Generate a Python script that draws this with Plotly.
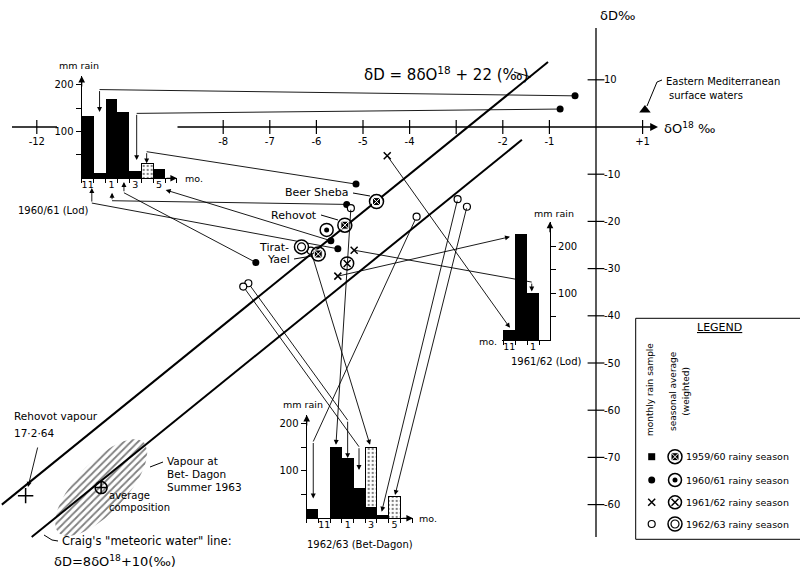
import numpy as np
import plotly.graph_objects as go

# ======================= DATA =======================
# Lod 1960/61 rainy season: monthly rain (mm) and monthly rain isotope samples
lod6061_months = ['11', '12', '1', '2', '3', '4', '5']
lod6061_rain = [134, 11, 170, 143, 16, 0, 20]
lod6061_rain_stippled = [0, 0, 0, 0, 0, 31, 0]
lod6061_d18O = [-5.54, -0.45, -5.35, -7.30, -0.77, -5.15, -5.69]
lod6061_dD = [-25.8, 6.6, -16.4, -28.7, 3.8, -12.1, -24.1]
lod6061_avg_d18O, lod6061_avg_dD = -5.78, -21.8

# Lod 1961/62 rainy season
lod6162_months = ['11', '12', '1']
lod6162_rain = [21, 226, 100]
lod6162_d18O = [-4.48, -5.54, -5.19]
lod6162_dD = [-6.1, -31.6, -26.1]
lod6162_avg_d18O, lod6162_avg_dD = -5.34, -28.9

# Bet-Dagon 1962/63 rainy season
bd6263_months = ['10', '11', '12', '1', '2', '3', '4', '5']
bd6263_rain = [20, 0, 150, 127, 63, 23, 8, 0]
bd6263_rain_stippled = [0, 0, 0, 0, 0, 127, 0, 47]
bd6263_d18O = [-3.85, None, -5.26, -7.46, -7.57, -6.12, -2.97, -2.77]
bd6263_dD = [-19.0, None, -17.2, -33.1, -33.8, -26.2, -15.3, -16.9]
bd6263_avg_d18O, bd6263_avg_dD = -6.32, -25.4

# 1959/60 weighted seasonal averages
st5960_names = ['Beer Sheba', 'Rehovot', 'Tirat-Yael']
st5960_d18O = [-4.71, -5.39, -5.96]
st5960_dD = [-15.8, -20.8, -26.9]

# other single samples
emed_d18O, emed_dD = 1.05, 3.6            # Eastern Mediterranean surface waters
rvap_d18O, rvap_dD = -12.24, -78.1        # Rehovot vapour 17.2.64
bdvap_d18O, bdvap_dD = -10.62, -76.4      # Bet-Dagon vapour, average composition

# reference lines  dD = slope * d18O + intercept
local_slope, local_intercept = 8, 22
craig_slope, craig_intercept = 8, 10
local_extent = [-12.75, -1.03]
craig_extent = [-12.11, -1.59]

# main axis ticks
x_tickvals = [-12, -8, -7, -6, -5, -4, -3, -2, -1, 1]
x_ticktext = ['-12', '-8', '-7', '-6', '-5', '-4', '', '-2', '-1', '+1']
y_tickvals = [10, -10, -20, -30, -40, -50, -60, -70, -80]
y_ticktext = ['10', '-10', '-20', '-30', '-40', '-50', '-60', '-70', '-60']
inset_tickvals = [50, 100, 150, 200]
inset_ticktext = ['', '100', '', '200']

# ======================= LAYOUT GEOMETRY =======================
W, H = 800, 571
X0PX, PXO = 596.0, 46.6     # pixel of d18O = 0, pixels per permil
Y0PX, PXD = 127.0, 4.72     # pixel of dD = 0, pixels per permil


def px2d(px, py):
    return (px - X0PX) / PXO, (Y0PX - py) / PXD


XR = [px2d(0, 0)[0], px2d(W, 0)[0]]
YR = [px2d(0, H)[1], px2d(0, 0)[1]]

INSET = {
    'lod6061': dict(n='2', dom_px=(81.7, 177.0), edge_px=81.7, ppm=11.9,
                    base_px=178.3, top_px=76.0, ppmm=0.467, side='left'),
    'lod6162': dict(n='3', dom_px=(501.7, 550.0), edge_px=503.3, ppm=11.9,
                    base_px=340.0, top_px=221.7, ppmm=0.467, side='right'),
    'bd6263': dict(n='4', dom_px=(306.7, 413.0), edge_px=306.7, ppm=11.7,
                   base_px=518.3, top_px=415.0, ppmm=0.474, side='left'),
}

# arrow routes: (x position in month index, elbow mm or None, arrow tip mm)
ROUTES = {
    'lod6061': [(0.35, -53, -21), (1.0, 190, 142), (2.05, -48, -31), (3.05, -31, -8),
                (4.12, 139, 39), (4.96, 57, 32), (6.56, None, -25)],
    'lod6162': [(0.06, None, 26), (0.06, None, 221), (1.89, 124, 104)],
    'bd6263': [(0.06, 162, 42), None, (2.0, None, 155), (3.0, 207, 127),
               (3.97, 151, 102), (4.91, None, 155), (5.91, None, 14), (7.05, None, 49)],
}


def inset_ranges(key):
    g = INSET[key]
    a, b = g['dom_px']
    xr = [(a - g['edge_px']) / g['ppm'] - 0.5, (b - g['edge_px']) / g['ppm'] - 0.5]
    yr = [0, (g['base_px'] - g['top_px']) / g['ppmm']]
    return xr, yr


def inset_to_main(key, idx, mm):
    g = INSET[key]
    return px2d(g['edge_px'] + (idx + 0.5) * g['ppm'], g['base_px'] - mm * g['ppmm'])


def P(px, py):
    return px / W, 1 - py / H


fig = go.Figure()
FONT = 'DejaVu Sans'

# ---------- hatched vapour cloud around average composition ----------
cpx = X0PX + bdvap_d18O * PXO
cpy = Y0PX - bdvap_dD * PXD
a_, b_, ang = 62, 25, np.deg2rad(47)
t = np.linspace(0, 2 * np.pi, 90)
epx = cpx + a_ * np.cos(t) * np.cos(ang) - b_ * np.sin(t) * np.sin(ang)
epy = cpy - (a_ * np.cos(t) * np.sin(ang) + b_ * np.sin(t) * np.cos(ang))
ex, ey = px2d(epx, epy)
fig.add_trace(go.Scatter(x=ex, y=ey, mode='lines', fill='toself', line=dict(width=0),
                         fillcolor='rgba(0,0,0,0)',
                         fillpattern=dict(shape='/', fgcolor='black', bgcolor='white',
                                          size=5, solidity=0.35),
                         hoverinfo='skip'))

# ---------- reference lines ----------
for slope, icpt, ext in [(local_slope, local_intercept, local_extent),
                         (craig_slope, craig_intercept, craig_extent)]:
    fig.add_trace(go.Scatter(x=ext, y=[slope * v + icpt for v in ext], mode='lines',
                             line=dict(color='black', width=2), hoverinfo='skip'))

# ---------- main axes lines ----------
ax_left = px2d(176, 0)[0]
fig.add_annotation(x=px2d(658, 0)[0], y=0, ax=ax_left, ay=0, xref='x', yref='y',
                   axref='x', ayref='y', text='', showarrow=True, arrowhead=2,
                   arrowsize=1.2, arrowwidth=1.3, arrowcolor='black')
fig.add_shape(type='line', x0=px2d(12, 0)[0], x1=px2d(57, 0)[0], y0=0, y1=0,
              xref='x', yref='y', line=dict(color='black', width=1.3))
fig.add_shape(type='line', x0=0, x1=0, y0=px2d(0, 28)[1], y1=px2d(0, 537)[1],
              xref='x', yref='y', line=dict(color='black', width=1.3))
fig.add_trace(go.Scatter(x=x_tickvals, y=[0] * len(x_tickvals), mode='markers',
                         marker=dict(symbol='line-ns', size=10,
                                     line=dict(color='black', width=1.2)),
                         hoverinfo='skip'))
fig.add_trace(go.Scatter(x=[0] * len(y_tickvals), y=y_tickvals, mode='markers',
                         marker=dict(symbol='line-ew', size=12,
                                     line=dict(color='black', width=1.2)),
                         hoverinfo='skip'))

# ---------- connectors from samples to rain histograms ----------
def connectors(key, xs, ys):
    for i, r in enumerate(ROUTES[key]):
        if r is None or xs[i] is None:
            continue
        idx, elbow, tip = r
        tx, ty = inset_to_main(key, idx, tip)
        sx, sy = xs[i], ys[i]
        if elbow is not None:
            bx, by = inset_to_main(key, idx, elbow)
            fig.add_trace(go.Scatter(x=[sx, bx], y=[sy, by], mode='lines',
                                     line=dict(color='black', width=0.9), hoverinfo='skip'))
            sx, sy = bx, by
        fig.add_annotation(x=tx, y=ty, ax=sx, ay=sy, xref='x', yref='y', axref='x',
                           ayref='y', text='', showarrow=True, arrowhead=2, arrowsize=1.1,
                           arrowwidth=0.9, arrowcolor='black')


connectors('lod6061', lod6061_d18O, lod6061_dD)
connectors('lod6162', lod6162_d18O, lod6162_dD)
connectors('bd6263', bd6263_d18O, bd6263_dD)


# ---------- symbols ----------
def sym(kind, xs, ys, xa='x', ya='y'):
    layers = {
        'sq': [dict(symbol='square', size=7, color='black')],
        'sq_avg': [dict(symbol='circle-open', size=14, color='black', line=dict(width=1.5, color='black')),
                   dict(symbol='square-x', size=8, color='black', line=dict(width=1, color='white'))],
        'dot': [dict(symbol='circle', size=7, color='black')],
        'dot_avg': [dict(symbol='circle-open', size=13, color='black', line=dict(width=1.5, color='black')),
                    dict(symbol='circle', size=5, color='black')],
        'x': [dict(symbol='x-thin-open', size=7, color='black', line=dict(width=1.5, color='black'))],
        'x_avg': [dict(symbol='circle-open', size=13, color='black', line=dict(width=1.5, color='black')),
                  dict(symbol='x-thin-open', size=7, color='black', line=dict(width=1.5, color='black'))],
        'o': [dict(symbol='circle', size=7, color='white', line=dict(width=1.2, color='black'))],
        'o_avg': [dict(symbol='circle', size=14, color='white', line=dict(width=1.5, color='black')),
                  dict(symbol='circle-open', size=8, color='black', line=dict(width=1.2, color='black'))],
    }[kind]
    for m in layers:
        fig.add_trace(go.Scatter(x=xs, y=ys, mode='markers', marker=m, xaxis=xa, yaxis=ya,
                                 hoverinfo='skip'))


sym('dot', lod6061_d18O, lod6061_dD)
sym('dot_avg', [lod6061_avg_d18O], [lod6061_avg_dD])
sym('x', lod6162_d18O, lod6162_dD)
sym('x_avg', [lod6162_avg_d18O], [lod6162_avg_dD])
sym('o', [v for v in bd6263_d18O if v is not None], [v for v in bd6263_dD if v is not None])
sym('o_avg', [bd6263_avg_d18O], [bd6263_avg_dD])
sym('sq_avg', st5960_d18O, st5960_dD)
fig.add_trace(go.Scatter(x=[emed_d18O], y=[emed_dD], mode='markers',
                         marker=dict(symbol='triangle-up', size=10, color='black'), hoverinfo='skip'))
fig.add_trace(go.Scatter(x=[rvap_d18O], y=[rvap_dD], mode='markers',
                         marker=dict(symbol='cross-thin-open', size=11, color='black',
                                     line=dict(width=1.5, color='black')),
                         hoverinfo='skip'))
fig.add_trace(go.Scatter(x=[bdvap_d18O], y=[bdvap_dD], mode='markers',
                         marker=dict(symbol='circle-cross-open', size=12, color='black',
                                     line=dict(width=1.5, color='black')), hoverinfo='skip'))

# ---------- rain histograms (insets) ----------
layout_axes = {}
for key, months, rain, stip in [('lod6061', lod6061_months, lod6061_rain, lod6061_rain_stippled),
                                ('lod6162', lod6162_months, lod6162_rain, None),
                                ('bd6263', bd6263_months, bd6263_rain, bd6263_rain_stippled)]:
    g = INSET[key]
    n = g['n']
    xr, yr = inset_ranges(key)
    idx = list(range(len(months)))
    fig.add_trace(go.Bar(x=idx, y=[v if v else None for v in rain], width=1,
                         marker=dict(color='black', line=dict(width=0)),
                         xaxis='x' + n, yaxis='y' + n, hoverinfo='skip'))
    if stip is not None:
        fig.add_trace(go.Bar(x=idx, y=[v if v else None for v in stip], base=rain, width=1,
                             marker=dict(color='white', line=dict(color='black', width=1),
                                         pattern=dict(shape='.', fgcolor='black', bgcolor='white',
                                                      size=4, solidity=0.25)),
                             xaxis='x' + n, yaxis='y' + n, hoverinfo='skip'))
    labels_at = [i for i, m in enumerate(months) if m in ('11', '1', '3', '5')]
    a, b = g['dom_px']
    layout_axes['xaxis' + n] = dict(
        domain=[a / W, b / W], range=xr, anchor='y' + n, showline=True, linecolor='black',
        linewidth=1.2, showgrid=False, zeroline=False, tickmode='array', tickvals=labels_at,
        ticktext=[months[i] for i in labels_at], ticks='', tickfont=dict(size=9.5),
        ticklabelstandoff=-3,
        minor=dict(tickmode='linear', tick0=0.5, dtick=1, ticks='outside', ticklen=4,
                   tickcolor='black', tickwidth=1, showgrid=False))
    layout_axes['yaxis' + n] = dict(
        domain=[1 - g['base_px'] / H, 1 - g['top_px'] / H], range=yr, anchor='x' + n,
        side=g['side'], showline=True, linecolor='black', linewidth=1.2, showgrid=False,
        zeroline=False, tickmode='array', tickvals=inset_tickvals, ticktext=inset_ticktext,
        ticks='outside', ticklen=5, tickcolor='black', tickfont=dict(size=10))
    # axis arrowheads
    yx = xr[0] if g['side'] == 'left' else xr[1]
    fig.add_annotation(x=yx, y=yr[1], xref='x' + n, yref='y' + n, ax=0, ay=12, text='',
                       showarrow=True, arrowhead=2, arrowsize=1.1, arrowwidth=1.2,
                       arrowcolor='black')
    if g['side'] == 'left':
        fig.add_annotation(x=xr[1], y=0, xref='x' + n, yref='y' + n, ax=-12, ay=0, text='',
                           showarrow=True, arrowhead=2, arrowsize=1.1, arrowwidth=1.2,
                           arrowcolor='black')

# ---------- texts ----------
def T(text, px, py, size=10, xanchor='center', angle=0):
    x, y = P(px, py)
    fig.add_annotation(x=x, y=y, xref='paper', yref='paper', text=text, showarrow=False,
                       xanchor=xanchor, yanchor='middle', textangle=angle,
                       font=dict(size=size, family=FONT, color='black'))


def L(pts, width=1):
    for (x0, y0), (x1, y1) in zip(pts[:-1], pts[1:]):
        a0, b0 = P(x0, y0)
        a1, b1 = P(x1, y1)
        fig.add_shape(type='line', x0=a0, y0=b0, x1=a1, y1=b1, xref='paper', yref='paper',
                      line=dict(color='black', width=width))


T('δD = 8δO<sup>18</sup> + 22 (‰)', 446, 74, 15)
L([(514, 72), (531, 77)])
T('δD‰', 598, 15, 13, 'left')
T('δO<sup>18</sup> ‰', 662, 128, 13, 'left')
T('Eastern Mediterranean', 664, 82, 10, 'left')
T('surface waters', 667, 95, 10, 'left')
L([(647, 106), (657, 82), (662, 80)])

T('mm rain', 79, 66, 9.5)
T('1960/61 (Lod)', 53, 211, 10)
T('mo.', 183, 178, 9.5, 'left')
T('mm rain', 554, 213, 9.5)
T('1961/62 (Lod)', 546, 361, 10)
T('mo.', 499, 341, 9.5, 'right')
T('mm rain', 303, 404, 9.5)
T('1962/63 (Bet-Dagon)', 360, 544, 10)
T('mo.', 417, 518, 9.5, 'left')

T('Beer Sheba', 351, 192, 11, 'right')
L([(353, 193), (370, 196)])
T('Rehovot', 319, 215, 11, 'right')
L([(321, 215), (338, 220)])
T('Tirat-', 291, 248, 11, 'right')
T('Yael', 292, 260, 11, 'right')
L([(294, 259), (312, 256)])

T('Rehovot vapour', 12, 416, 10.5, 'left')
T('17·2·64', 12, 433, 10.5, 'left')
ra = px2d(38, 446)
rb = px2d(28, 487)
fig.add_annotation(x=rb[0], y=rb[1], ax=ra[0], ay=ra[1], xref='x', yref='y', axref='x',
                   ayref='y', text='', showarrow=True, arrowhead=2, arrowsize=1.1, arrowwidth=0.9,
                   arrowcolor='black')
T('Vapour at', 165, 461, 10.5, 'left')
T('Bet- Dagon', 165, 474, 10.5, 'left')
T('Summer 1963', 165, 487, 10.5, 'left')
L([(150, 467), (163, 462)])
T('average', 107, 495, 10, 'left')
T('composition', 107, 507, 10, 'left')
T('Craig\'s "meteoric water" line:', 60, 541, 11.5, 'left')
L([(44, 535), (52, 540), (58, 541)])
T('δD=8δO<sup>18</sup>+10(‰)', 52, 561, 13, 'left')

# ---------- legend panel ----------
bx0, by0 = P(635.7, 539.3)
bx1, by1 = P(805, 318.3)
fig.add_shape(type='rect', x0=bx0, y0=by0, x1=bx1, y1=by1, xref='paper', yref='paper',
              line=dict(color='black', width=1), fillcolor='white', layer='below')
T('<u>LEGEND</u>', 719, 328, 11)
T('monthly rain sample', 650, 390, 9, angle=-90)
T('seasonal average', 673, 391, 9, angle=-90)
T('(weighted)', 685.7, 391, 9, angle=-90)
legend_seasons = ['1959/60', '1960/61', '1961/62', '1962/63']
legend_monthly = ['sq', 'dot', 'x', 'o']
legend_avg = ['sq_avg', 'dot_avg', 'x_avg', 'o_avg']
legend_rows_py = [456.7, 480, 502.3, 524]
for s, m, av, py in zip(legend_seasons, legend_monthly, legend_avg, legend_rows_py):
    sym(m, [651.7], [py], 'x5', 'y5')
    sym(av, [675], [py], 'x5', 'y5')
    T(f'{s} rainy season', 684, py, 9.5, 'left')
layout_axes['xaxis5'] = dict(domain=[0, 1], range=[0, W], visible=False, anchor='y5')
layout_axes['yaxis5'] = dict(domain=[0, 1], range=[H, 0], visible=False, anchor='x5')

fig.update_layout(
    width=W, height=H, margin=dict(l=0, r=0, t=0, b=0), paper_bgcolor='white',
    plot_bgcolor='rgba(0,0,0,0)', showlegend=False, hovermode=False, barmode='stack',
    font=dict(family=FONT, color='black', size=10),
    xaxis=dict(domain=[0, 1], range=XR, anchor='free',
               position=(0 - YR[0]) / (YR[1] - YR[0]), showline=False, showgrid=False,
               zeroline=False, tickmode='array', tickvals=x_tickvals, ticktext=x_ticktext,
               ticks='', ticklabelstandoff=7, tickfont=dict(size=10)),
    yaxis=dict(domain=[0, 1], range=YR, anchor='free',
               position=(0 - XR[0]) / (XR[1] - XR[0]), side='right', showline=False,
               showgrid=False, zeroline=False, tickmode='array', tickvals=y_tickvals,
               ticktext=y_ticktext, ticks='', ticklabelstandoff=7, tickfont=dict(size=10)),
    **layout_axes,
)

fig.write_html('out.html', config={'displayModeBar': False},
               post_script="document.body.style.margin='0';document.body.style.padding='0';")
